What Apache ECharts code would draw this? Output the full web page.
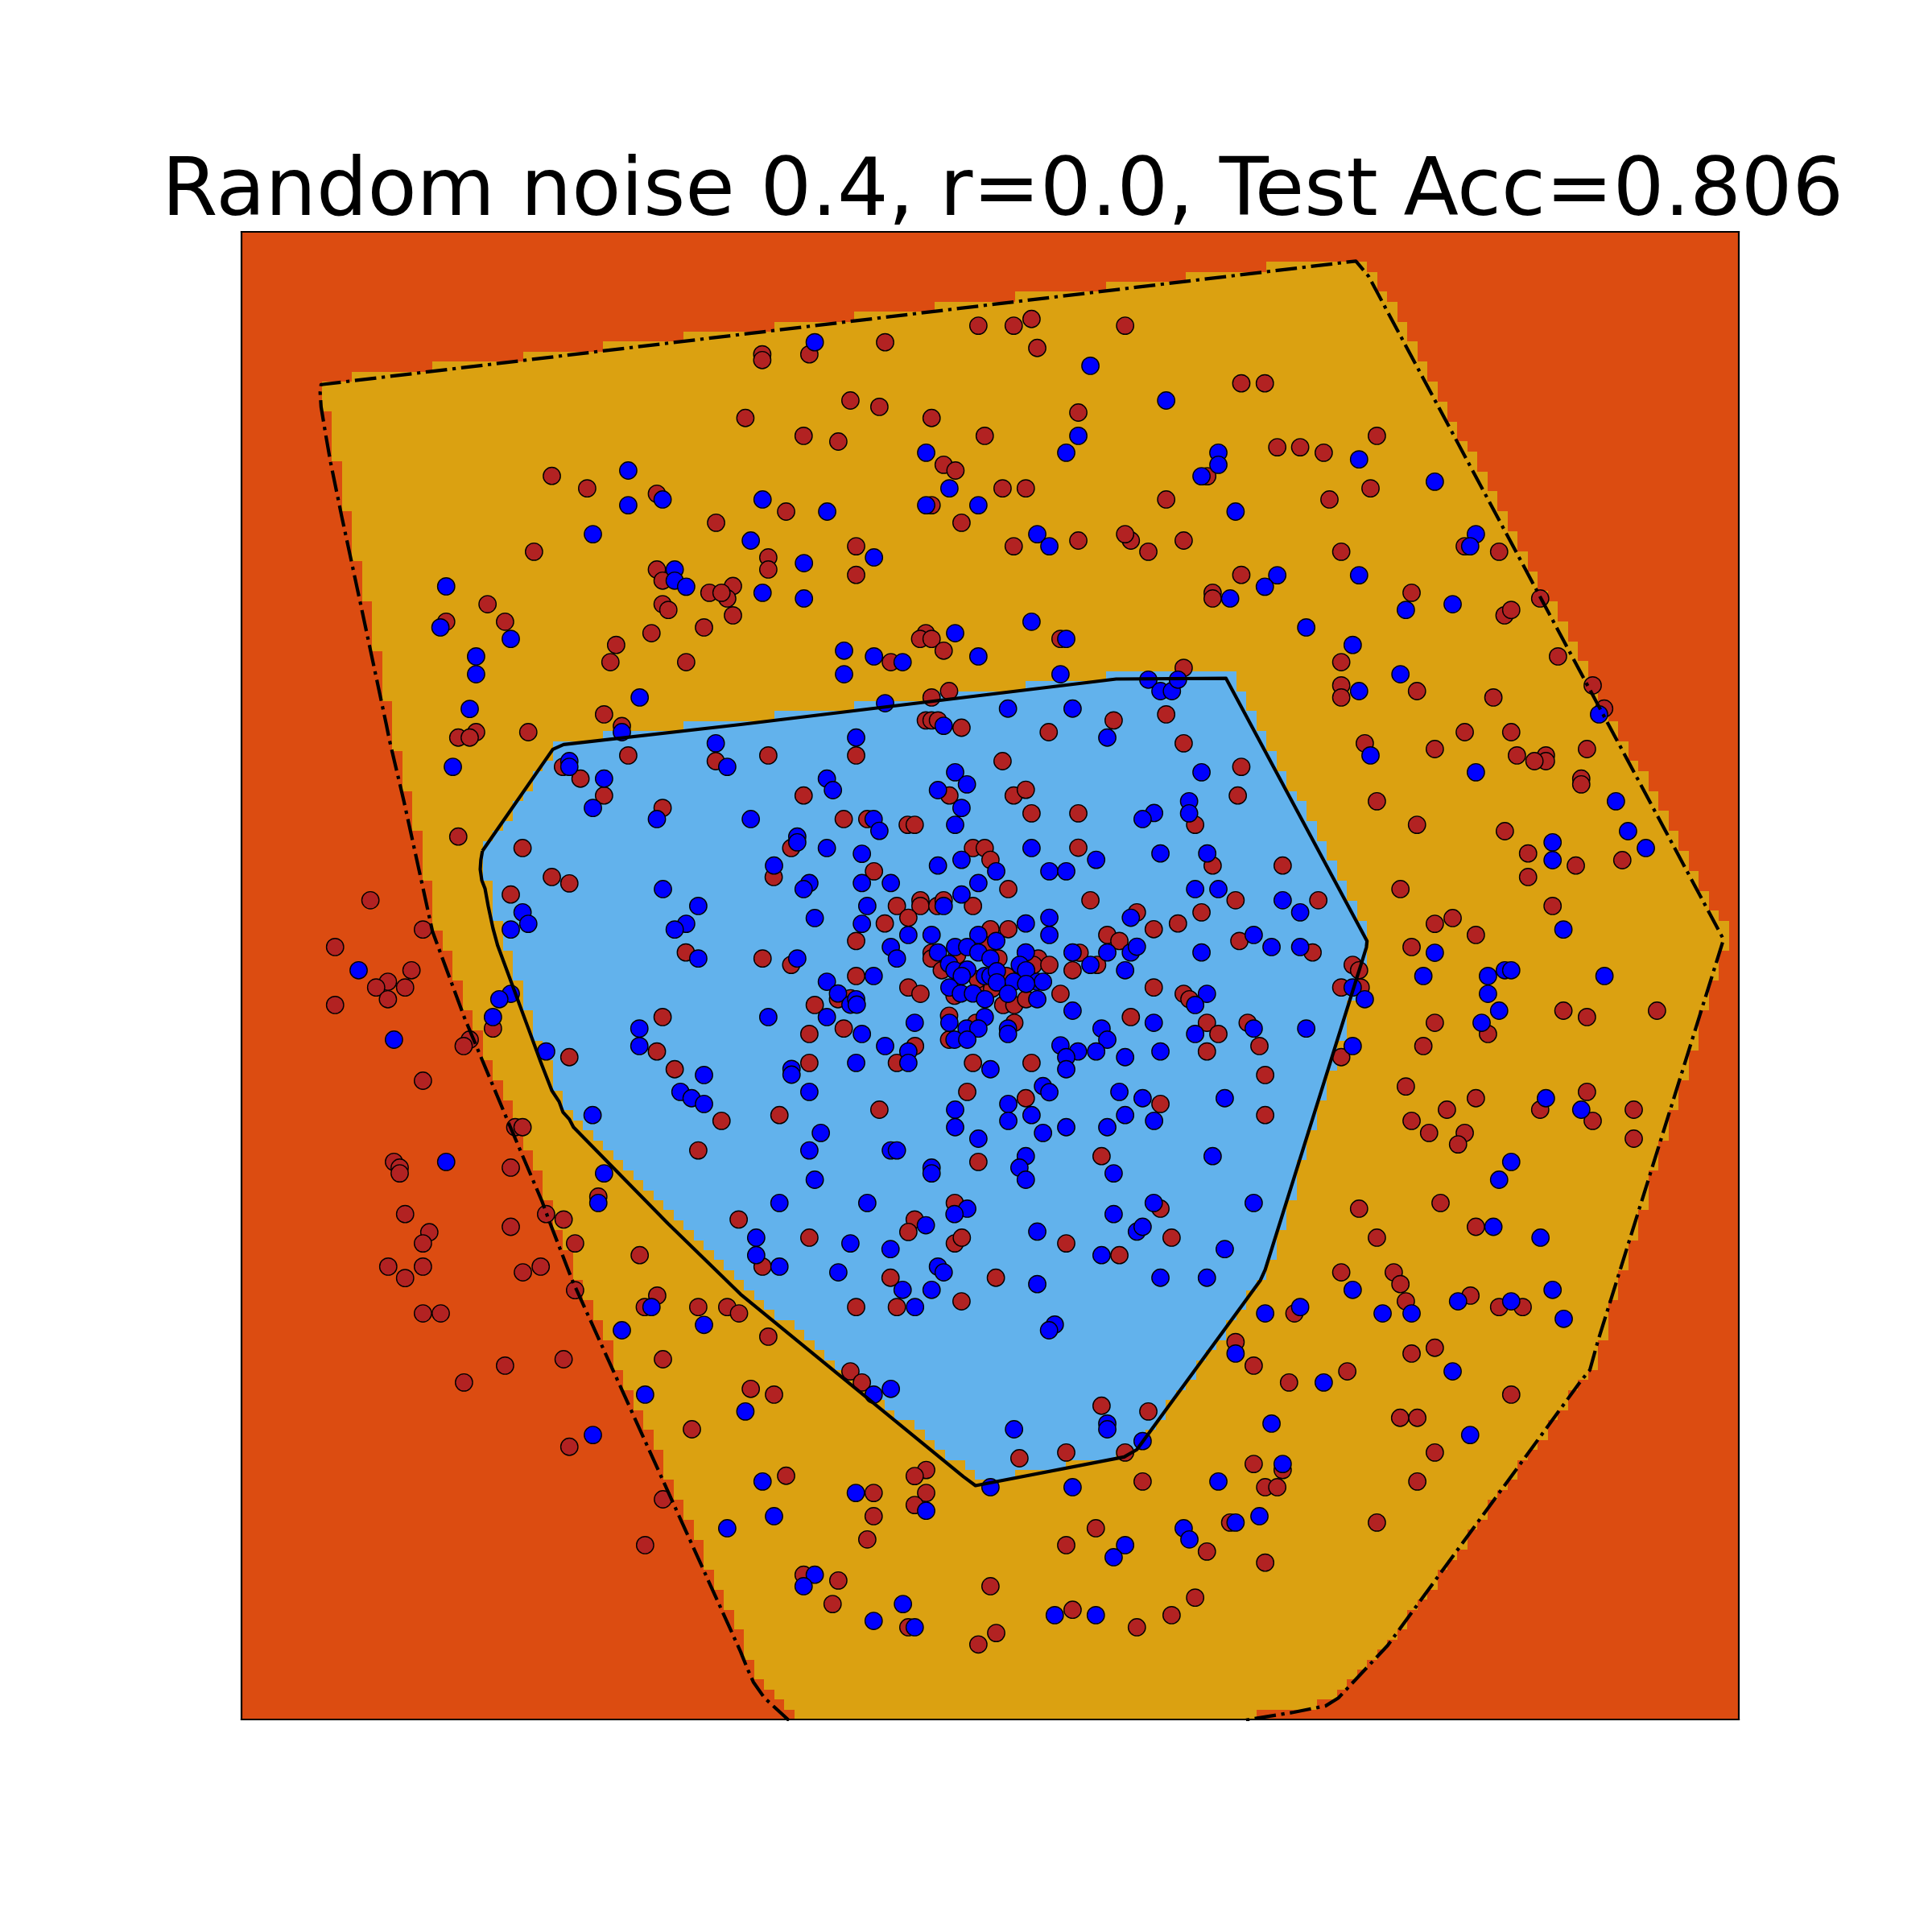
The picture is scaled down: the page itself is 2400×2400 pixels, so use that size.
<!DOCTYPE html>
<html><head><meta charset="utf-8"><style>html,body{margin:0;padding:0;background:#fff}#c{width:2400px;height:2400px}</style>
<script src="https://cdn.jsdelivr.net/npm/echarts@6/dist/echarts.min.js"></script></head><body><div id="c"></div><script>
const titleText = "Random noise 0.4, r=0.0, Test Acc=0.806";
const xRange = [0, 4704];
const yRange = [20.2, 4693.7];
const gridCells = 149;
const regionColors = ["#DC4C11", "#DBA111", "#62B2EC"];

const outerBoundary = [[1720,4697],[1703,4681],[1643,4626],[1608,4576],[1588,4531],[1568,4481],[1040,3316],[970,3136],[945,3068],[830,2798],[700,2488],[600,2218],[565,2058],[510,1808],[465,1618],[455,1568],[370,1170],[315,915],[280,745],[265,660],[250,570],[247,525],[250,500],[3501,112],[3541,160],[4656,2243],[4261,3506],[4236,3596],[4211,3626],[3601,4461],[3446,4626],[3406,4651],[3306,4671],[3181,4691],[3150,4697]];
const innerBoundary = [[757,1965],[978,1646],[1012,1631],[1568,1568],[2748,1425],[3093,1423],[3536,2248],[3534,2268],[3216,3281],[3201,3314],[2813,3846],[2773,3869],[2306,3959],[2268,3931],[1568,3358],[1340,3136],[1043,2833],[1030,2808],[1010,2786],[998,2753],[975,2718],[940,2628],[905,2533],[805,2263],[790,2208],[775,2138],[765,2083],[755,2058],[750,2023],[752,1993],[757,1965]];

const redPoints = [
[975,787],[1086,826],[1305,843],[1491,934],[919,1025],[1305,1081],[1323,1116],[1470,1154],[1544,1133],[1526,1172],[1508,1154],[1323,1190],[1341,1208],[1544,1225],[773,1190],[643,1245],[828,1245],[1288,1281],[1453,1263],[1177,1318],[1159,1372],[1397,1372],[1139,1536],
[681,1609],[737,1592],[717,1609],[901,1592],[1195,1573],[681,1920],[1215,1665],[1490,1683],[1010,1701],[1065,1738],[1139,1791],[1323,1830],[883,1956],[975,2047],[1030,2067],[846,2102],[405,2120],[570,2212],[294,2267],[1396,2284],[534,2340],[460,2376],[423,2394],[514,2394],[460,2431],[294,2449],[790,2523],[1323,2487],[717,2558],[698,2578],[1030,2613],[1305,2595],[1361,2651],[570,2687],[860,2833],[883,2833],[1508,2813],[1435,2906],[479,2942],[497,2960],[497,2978],[846,2960],[1121,3051],[957,3106],[1012,3123],[514,3106],[1562,3123],
[1583,605],[1636,405],[1636,423],[1784,405],[2022,367],[2315,315],[2426,315],[2482,294],[2500,385],[2776,315],[1913,550],[2004,570],[2168,605],[1766,661],[1875,679],[2335,661],[2629,588],[2206,752],[2243,770],[2905,861],[3034,788],[1711,899],[2168,879],[2262,934],[2391,826],[2464,826],[2426,1008],[2629,990],[2794,990],[2776,970],[2849,1025],[2960,990],[1655,1043],[1655,1081],[1931,1008],[1931,1098],[3051,1154],[3051,1172],[2150,1281],[2132,1299],[2168,1299],[2206,1336],[2573,1299],[2040,1372],[2960,1390],[2223,1463],[2168,1483],[2150,1555],[2168,1555],[2188,1555],[2262,1578],[2740,1555],[2905,1536],[2536,1592],
[3141,496],[3215,496],[3254,697],[3326,697],[3400,714],[3567,661],[3547,826],[3418,861],[3455,1025],[3141,1098],[3843,1008],[3951,1025],[3676,1154],[4080,1172],[3968,1225],[3989,1208],[3455,1372],[4136,1354],[3455,1445],[3455,1483],[3693,1463],[3933,1483],[4245,1445],[4281,1518],
[3529,1627],[3749,1645],[3843,1592],[3989,1592],[4007,1665],[4098,1665],[4098,1683],[4062,1683],[4227,1645],[4209,1738],[4209,1756],[3141,1701],[3130,1791],[3567,1809],[3693,1883],[3969,1903],[4042,1973],[4192,2011],[4338,1994],[4042,2047],[3271,2011],[3641,2085],[3123,2120],[3383,2120],[4119,2138],[3805,2176],[3749,2194],[3878,2229],[3676,2267],[3135,2248],[3365,2284],[3491,2323],[3511,2340],[3455,2394],[3516,2394],[3161,2505],[3749,2505],[4153,2467],[4227,2487],[4447,2467],[3916,2540],[3713,2578],[3198,2578],[3455,2613],[3216,2669],[3658,2705],[3878,2742],[4227,2722],[3787,2778],[4080,2778],[4245,2813],[4374,2778],[3676,2813],[3216,2795],[3731,2851],[3843,2851],[3822,2887],[4374,2869],[3767,3071],[3511,3089],
[1655,1665],[1931,1665],[2391,1683],[2426,1791],[2464,1773],[2224,1791],[1766,1791],[2482,1847],[2629,1847],[2960,1627],[2996,1883],[1892,1865],[1966,1865],[2093,1883],[2115,1883],[1727,1956],[2298,1956],[2335,1956],[2353,1993],[2629,1955],[3051,2011],[1672,2047],[1987,2029],[2409,2085],[2667,2120],[2133,2120],[2059,2138],[2133,2138],[2186,2138],[2206,2120],[2298,2138],[2095,2175],[2813,2158],[3016,2158],[2021,2193],[2353,2211],[2409,2211],[2866,2211],[2942,2193],[2720,2229],[2758,2248],[1931,2248],[2168,2285],[2168,2303],[2200,2340],[1637,2303],[1727,2323],[2503,2303],[2488,2323],[2538,2323],[2633,2285],[2611,2340],[2688,2323],[1931,2358],[2095,2394],[2133,2414],[2573,2414],[2866,2394],[2960,2414],[2978,2431],[1801,2449],[1874,2431],[1913,2428],[2393,2449],[2428,2449],[2465,2431],[2223,2483],[2428,2505],[2308,2505],[2794,2487],[3033,2505],[3069,2540],[3033,2595],[1784,2540],[1892,2523],[2223,2558],[2116,2578],[1784,2631],[2059,2631],[2298,2631],[2482,2631],[2280,2722],[2464,2742],[2887,2760],[2004,2778],[1690,2795],[2702,2924],[2315,2942],[2241,3071],[2887,3089],[2115,3123],
[2248,2293],[2338,2263],[2378,2303],[2333,2378],[2358,2398],[2403,2358],[2313,2368],[2240,2420],
[846,3146],[590,3163],[570,3198],[1048,3198],[461,3271],[514,3307],[570,3271],[884,3289],[940,3271],[1048,3345],[1251,3235],[1306,3362],[1267,3398],[570,3418],[626,3418],[1435,3398],[1526,3398],[1563,3418],[1012,3562],[828,3582],[699,3635],[1324,3562],[1415,3782],[1030,3837],[1324,4002],[1268,4146],
[1784,3180],[2095,3162],[2241,3198],[2263,3180],[2591,3198],[2758,3235],[2922,3180],[1637,3271],[2039,3306],[2370,3306],[1931,3398],[2059,3398],[2262,3380],[1655,3491],[1913,3600],[1949,3635],[2702,3708],[2849,3726],[2444,3873],[2591,3855],[2776,3855],[2831,3946],[1711,3928],[1600,3655],[1673,3673],[2151,3910],[2115,3929],[2151,3982],[2115,4020],[1986,3982],[1986,4055],[1966,4128],[2684,4093],[2591,4146],[3033,4166],[3106,4075],[1766,4239],[1875,4257],[1857,4331],[2353,4275],[2611,4349],[2996,4311],[2922,4366],[2813,4404],[2095,4404],[2371,4422],[2315,4458],[3123,3508],
[3567,3180],[3878,3146],[3455,3289],[3620,3289],[3641,3326],[3658,3380],[3308,3418],[3861,3362],[3951,3398],[4025,3398],[3749,3526],[3676,3544],[3180,3582],[3474,3600],[3291,3635],[3989,3673],[3640,3746],[3694,3746],[3749,3855],[3694,3946],[3180,3891],[3271,3910],[3216,3964],[3254,3964],[3567,4075],[3216,4201]
];

const bluePoints = [
[1215,770],[1323,861],[1215,879],[1104,970],[1361,1081],[1361,1116],[1397,1135],[643,1134],[625,1263],[846,1299],[737,1354],[737,1410],[1251,1483],[717,1519],
[1195,1592],[1490,1627],[1526,1701],[664,1701],[1030,1683],[1030,1701],[1139,1738],[1104,1830],[1305,1865],[1324,2085],[1435,2138],[1397,2194],[1361,2212],[1435,2303],[883,2158],[901,2194],[846,2212],[368,2340],[846,2414],[810,2431],[790,2487],[479,2558],[957,2595],[1250,2523],[1250,2578],[1453,2669],[1379,2722],[1414,2742],[1453,2760],[1103,2795],[643,2942],[1139,2978],[1121,3071],
[1801,367],[2667,441],[2905,550],[2151,714],[2629,661],[2591,714],[3069,714],[3069,752],[3016,788],[2224,826],[1637,861],[1840,899],[2151,879],[2315,879],[3123,899],[2500,970],[2538,1008],[1600,990],[1767,1061],[1987,1043],[1637,1154],[1767,1172],[3106,1172],[2482,1245],[2242,1281],[2591,1299],[1893,1336],[1987,1354],[2077,1372],[2315,1354],[1893,1410],[2573,1410],[2022,1501],[2849,1427],[2887,1463],[2923,1463],[2942,1427],[2408,1518],[2611,1518],[2206,1572],
[3511,735],[3749,805],[3878,970],[3860,1008],[3254,1099],[3215,1135],[3511,1099],[3658,1208],[3805,1190],[3345,1263],[3491,1318],[3641,1410],[3511,1463],[4265,1536],
[3547,1665],[3878,1718],[4318,1809],[4356,1903],[4412,1956],[4119,1938],[4119,1994],[3271,2120],[3326,2158],[3180,2229],[3236,2267],[3326,2267],[4153,2212],[3749,2285],[3713,2358],[3916,2358],[3969,2340],[3989,2340],[3916,2414],[4282,2358],[3491,2394],[3529,2431],[3951,2467],[3896,2505],[3180,2523],[3345,2523],[3491,2578],[4098,2742],[4209,2778],[3989,2942],[3951,2998],[3180,3071],
[1931,1609],[2720,1609],[1839,1738],[1858,1774],[2242,1718],[2279,1756],[2188,1774],[2262,1830],[2242,1883],[3016,1718],[2977,1809],[2977,1847],[2867,1846],[2831,1865],[1600,1865],[1986,1865],[2004,1902],[1746,1920],[1746,1938],[1839,1956],[1949,1974],[2482,1956],[2685,1993],[2887,1973],[3034,1973],[1673,2011],[2188,2011],[2262,1993],[2371,2029],[2538,2029],[2591,2029],[1784,2066],[1766,2085],[1949,2066],[2040,2066],[2315,2066],[2996,2085],[3069,2085],[2262,2102],[2206,2138],[1966,2138],[1801,2176],[1949,2194],[2794,2175],[2464,2193],[2538,2175],[2538,2229],[2095,2229],[2168,2229],[2315,2229],[2371,2248],[2040,2267],[2059,2303],[2188,2284],[2242,2267],[2280,2267],[2315,2284],[2353,2303],[2464,2284],[2611,2284],[2720,2284],[2794,2284],[2813,2266],[3016,2284],[1746,2303],[2223,2320],[2240,2340],[2280,2338],[2263,2358],[2445,2323],[2465,2340],[2667,2323],[2776,2340],[1986,2358],[1839,2376],[1874,2413],[1913,2448],[1931,2431],[1933,2448],[2335,2358],[2353,2358],[2373,2343],[2373,2378],[2426,2376],[2500,2376],[2518,2376],[2465,2383],[2224,2394],[2260,2413],[2298,2413],[2408,2414],[2336,2431],[2500,2431],[3033,2414],[2996,2449],[2611,2467],[1655,2487],[1839,2487],[2335,2487],[2115,2505],[2224,2505],[2278,2523],[2315,2523],[2408,2523],[2408,2540],[2866,2505],[2702,2523],[2720,2558],[1949,2540],[2996,2540],[2240,2558],[2280,2558],[2022,2578],[2573,2576],[2628,2595],[2685,2595],[2591,2613],[2591,2651],[2776,2613],[2887,2595],[2095,2595],[2095,2631],[1931,2631],[2353,2651],[1728,2650],[1728,2668],[1784,2722],[2518,2704],[2538,2723],[2758,2722],[2831,2742],[3089,2742],[2242,2778],[2409,2760],[2482,2795],[2776,2795],[2409,2813],[2242,2833],[2591,2833],[2720,2833],[2867,2813],[2518,2851],[1820,2851],[2315,2869],[1784,2906],[2040,2906],[2059,2906],[2464,2924],[2444,2960],[3051,2924],[2740,2978],[1801,2998],[2464,2998],[2168,2960],[2168,2978],[1690,3071],[1966,3071],[2866,3071],[2280,3089],[2240,3106],[2740,3106],[2150,3141],
[1288,3398],[1195,3471],[1453,3454],[1268,3673],[1104,3800],[1526,4093],
[1617,3180],[1617,3235],[1690,3271],[1913,3198],[2039,3216],[1875,3289],[2188,3271],[2206,3289],[2077,3344],[2168,3344],[2116,3398],[2500,3161],[2813,3161],[2831,3146],[2702,3235],[2500,3326],[2887,3306],[3033,3306],[3089,3216],[2555,3453],[2537,3471],[1583,3726],[2040,3655],[1986,3673],[2427,3782],[2720,3764],[2720,3782],[2831,3819],[2353,3964],[2611,3964],[1637,3946],[1930,3982],[2151,4038],[1673,4055],[3069,3946],[3123,3544],[3123,4075],[2960,4093],[2978,4128],[2776,4146],[2740,4184],[1801,4239],[1766,4275],[2078,4331],[1986,4384],[2115,4404],[2555,4366],[2684,4366],
[3933,3146],[4081,3180],[3491,3344],[4119,3344],[3216,3418],[3326,3398],[3585,3418],[3676,3418],[3822,3380],[3989,3380],[4154,3435],[3805,3600],[3400,3635],[3236,3764],[3860,3800],[3271,3891],[3198,4055]
];

function inside(poly, x, y) {
  let hit = false;
  for (let a = 0, b = poly.length - 1; a < poly.length; b = a++) {
    const [xa, ya] = poly[a], [xb, yb] = poly[b];
    if ((ya > y) !== (yb > y) && x < (xb - xa) * (y - ya) / (yb - ya) + xa) hit = !hit;
  }
  return hit;
}
const dx = (xRange[1] - xRange[0]) / gridCells, dy = (yRange[1] - yRange[0]) / gridCells;
const xEdge = i => xRange[0] + i * dx, yEdge = j => yRange[0] + j * dy;
const regionRuns = [];
for (let j = 0; j < gridCells; j++) {
  let start = 0, last = null;
  for (let i = 0; i <= gridCells; i++) {
    let cls = null;
    if (i < gridCells) {
      const px = xEdge(i), py = yEdge(j + 1);
      cls = inside(innerBoundary, px, py) ? 2 : inside(outerBoundary, px, py) ? 1 : 0;
    }
    if (cls !== last) {
      if (last !== null) regionRuns.push([start, i, j, last]);
      start = i; last = cls;
    }
  }
}

const hiddenAxis = {type: "value", axisTick: {show: false}, axisLabel: {show: false}, splitLine: {show: false},
  axisLine: {show: true, onZero: false, lineStyle: {color: "#000", width: 2.2, cap: "square"}}, z: 20};
const chart = echarts.init(document.getElementById("c"), null, {renderer: "canvas", width: 2400, height: 2400});
chart.setOption({
  animation: false,
  backgroundColor: "#fff",
  title: {text: titleText, left: 196, top: 186, textStyle: {fontFamily: "DejaVu Sans", fontSize: 100, fontWeight: "normal", color: "#000"}},
  grid: {left: 300, top: 288, width: 1860, height: 1848, show: false},
  xAxis: [
    Object.assign({}, hiddenAxis, {position: "bottom", min: xRange[0], max: xRange[1]}),
    Object.assign({}, hiddenAxis, {position: "top", min: xRange[0], max: xRange[1]})
  ],
  yAxis: [
    Object.assign({}, hiddenAxis, {position: "left", inverse: true, min: yRange[0], max: yRange[1]}),
    Object.assign({}, hiddenAxis, {position: "right", inverse: true, min: yRange[0], max: yRange[1]})
  ],
  series: [
    {type: "custom", silent: true, z: 1, clip: false, progressive: 0, data: regionRuns,
      renderItem: function (params, api) {
        const a = api.coord([xEdge(api.value(0)), yEdge(api.value(2))]);
        const b = api.coord([xEdge(api.value(1)), yEdge(api.value(2) + 1)]);
        const x0 = Math.round(a[0]), y0 = Math.round(a[1]), x1 = Math.round(b[0]), y1 = Math.round(b[1]);
        return {type: "rect", shape: {x: x0, y: y0, width: x1 - x0, height: y1 - y0},
          style: {fill: regionColors[api.value(3)], stroke: null}};
      }},
    {type: "scatter", silent: true, z: 2, progressive: 0, large: false, data: redPoints, symbol: "circle", symbolSize: 21.4,
      itemStyle: {color: "#B22222", borderColor: "#000", borderWidth: 1.4, opacity: 1}},
    {type: "scatter", silent: true, z: 3, progressive: 0, large: false, data: bluePoints, symbol: "circle", symbolSize: 21.4,
      itemStyle: {color: "#0000FF", borderColor: "#000", borderWidth: 1.4, opacity: 1}},
    {type: "line", silent: true, z: 4, data: innerBoundary, symbol: "none", clip: true, smooth: false,
      lineStyle: {color: "#000", width: 4.2, cap: "butt", join: "round"}},
    {type: "line", silent: true, z: 4, data: outerBoundary, symbol: "none", clip: true, smooth: false,
      lineStyle: {color: "#000", width: 4.2, cap: "butt", join: "round", type: [26.7, 6.7, 4.2, 6.7]}}
  ]
});
</script></body></html>
